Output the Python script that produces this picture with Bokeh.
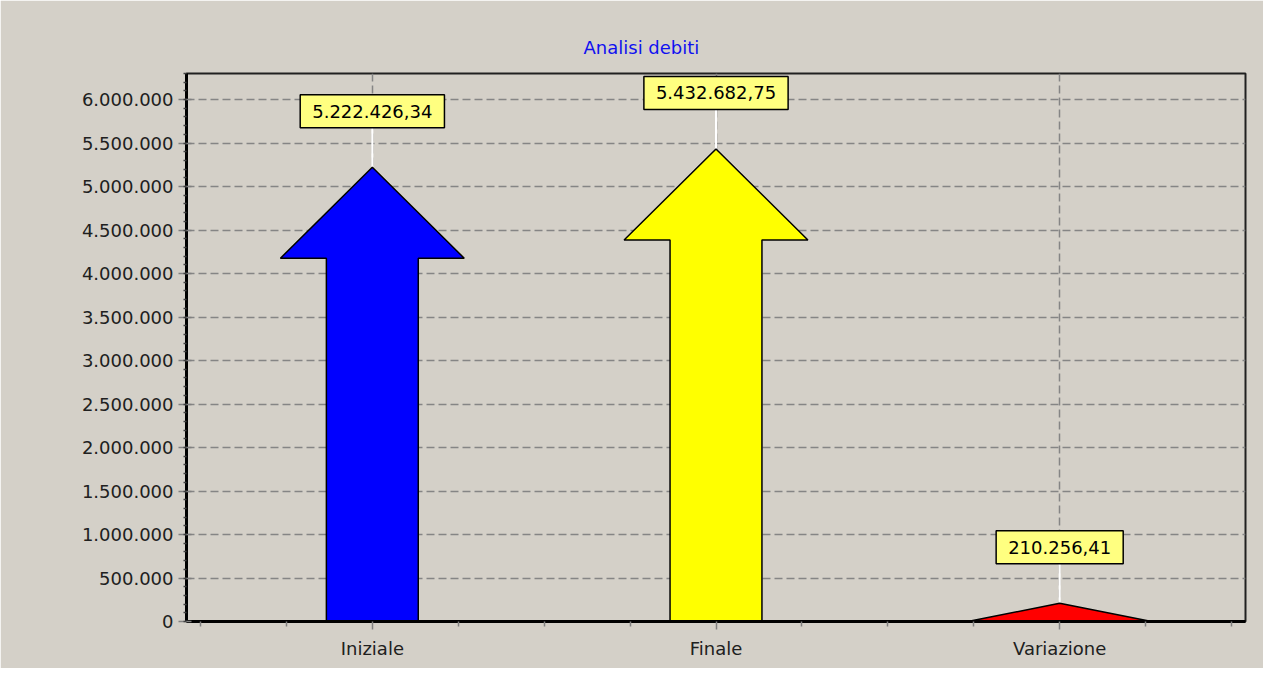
from bokeh.plotting import figure
from bokeh.models import Range1d, FixedTicker, Label
from bokeh.embed import file_html
from bokeh.resources import INLINE

# ---- data ----
title_text = "Analisi debiti"
categories = ["Iniziale", "Finale", "Variazione"]
values = [5222426.34, 5432682.75, 210256.41]
colors = ["#0000FF", "#FFFF00", "#FF0000"]
y_ticks = [0, 500000, 1000000, 1500000, 2000000, 2500000, 3000000,
           3500000, 4000000, 4500000, 5000000, 5500000, 6000000]
y_tick_labels = ["0", "500.000", "1.000.000", "1.500.000", "2.000.000",
                 "2.500.000", "3.000.000", "3.500.000", "4.000.000",
                 "4.500.000", "5.000.000", "5.500.000", "6.000.000"]


def fmt_it(v):
    s = f"{v:,.2f}"
    return s.replace(",", "X").replace(".", ",").replace("X", ".")


# ---- style / layout ----
BG = "#D4D0C8"
FONT = "DejaVu Sans"
FS = "18px"
Y_MAX = 6300000
FRAME_H = 548
DPP = Y_MAX / FRAME_H           # data units per pixel
HEAD_PX = 91
SHAFT_HALF = 0.1337
HEAD_HALF = 0.2674
x_pos = list(range(len(categories)))

p = figure(width=1263, height=668,
           x_range=Range1d(-0.5407, len(categories) - 1 + 0.5407),
           y_range=Range1d(0, Y_MAX),
           output_backend="svg", toolbar_location=None, tools="",
           min_border_left=186, min_border_right=18,
           min_border_top=73, min_border_bottom=47)

p.background_fill_color = BG
p.border_fill_color = BG
p.outline_line_color = "#202020"
p.outline_line_width = 2

# title
p.title.text = title_text
p.title.align = "left"
p.title.offset = 397
p.title.standoff = 31
p.title.text_font = FONT
p.title.text_font_size = FS
p.title.text_font_style = "normal"
p.title.text_color = "#1010F0"

# grids
p.xgrid.ticker = FixedTicker(ticks=x_pos)
p.ygrid.ticker = FixedTicker(ticks=y_ticks)
for g in (p.xgrid, p.ygrid):
    g.grid_line_color = "#858585"
    g.grid_line_dash = "8 4"
    g.grid_line_width = 1.5

# x axis
minor_x = [k / 4 - 0.5 for k in range(4 * len(categories) + 1) if (k % 4) != 2]
p.xaxis.ticker = FixedTicker(ticks=x_pos, minor_ticks=minor_x)
p.xaxis.major_label_overrides = {i: c for i, c in enumerate(categories)}
# y axis
p.yaxis.ticker = FixedTicker(ticks=y_ticks, minor_ticks=list(range(0, 6300001, 100000)))
p.yaxis.major_label_overrides = {t: l for t, l in zip(y_ticks, y_tick_labels)}

for ax in (p.xaxis, p.yaxis):
    ax.axis_line_color = "black"
    ax.axis_line_width = 3
    ax.major_tick_line_color = "#808080"
    ax.major_tick_line_width = 1.5
    ax.major_label_text_font = FONT
    ax.major_label_text_font_size = FS
    ax.major_label_text_color = "#202020"

p.xaxis.major_tick_out = 8
p.xaxis.major_tick_in = 0
p.xaxis.minor_tick_out = 5
p.xaxis.minor_tick_in = 0
p.xaxis.minor_tick_line_color = "#808080"
p.xaxis.minor_tick_line_width = 1.5
p.xaxis.major_label_standoff = 8

p.yaxis.major_tick_out = 8
p.yaxis.major_tick_in = 5
p.yaxis.minor_tick_out = 3
p.yaxis.minor_tick_in = 0
p.yaxis.minor_tick_line_color = "#404040"
p.yaxis.minor_tick_line_width = 1.5
p.yaxis.major_label_standoff = 5

# connectors (white lines from arrow tip to label box)
p.segment(x0=x_pos, y0=values, x1=x_pos, y1=[v + 40 * DPP for v in values],
          line_color="white", line_width=2)

# arrows
hh = HEAD_PX * DPP
xs, ys = [], []
for x, v in zip(x_pos, values):
    if v > hh:
        xs.append([x - SHAFT_HALF, x - SHAFT_HALF, x - HEAD_HALF, x,
                   x + HEAD_HALF, x + SHAFT_HALF, x + SHAFT_HALF])
        ys.append([0, v - hh, v - hh, v, v - hh, v - hh, 0])
    else:
        xs.append([x - HEAD_HALF, x, x + HEAD_HALF])
        ys.append([0, v, 0])
p.patches(xs=xs, ys=ys, fill_color=colors, line_color="black", line_width=1.5)

# value labels
for x, v in zip(x_pos, values):
    p.add_layout(Label(x=x, y=v, y_offset=56, text=fmt_it(v),
                       text_align="center", text_baseline="middle",
                       text_font=FONT, text_font_size=FS, text_color="black",
                       background_fill_color="#FFFF80",
                       border_line_color="black", border_line_width=1.5,
                       padding=(12, 10)))

open("out.html", "w").write(file_html(p, INLINE))
